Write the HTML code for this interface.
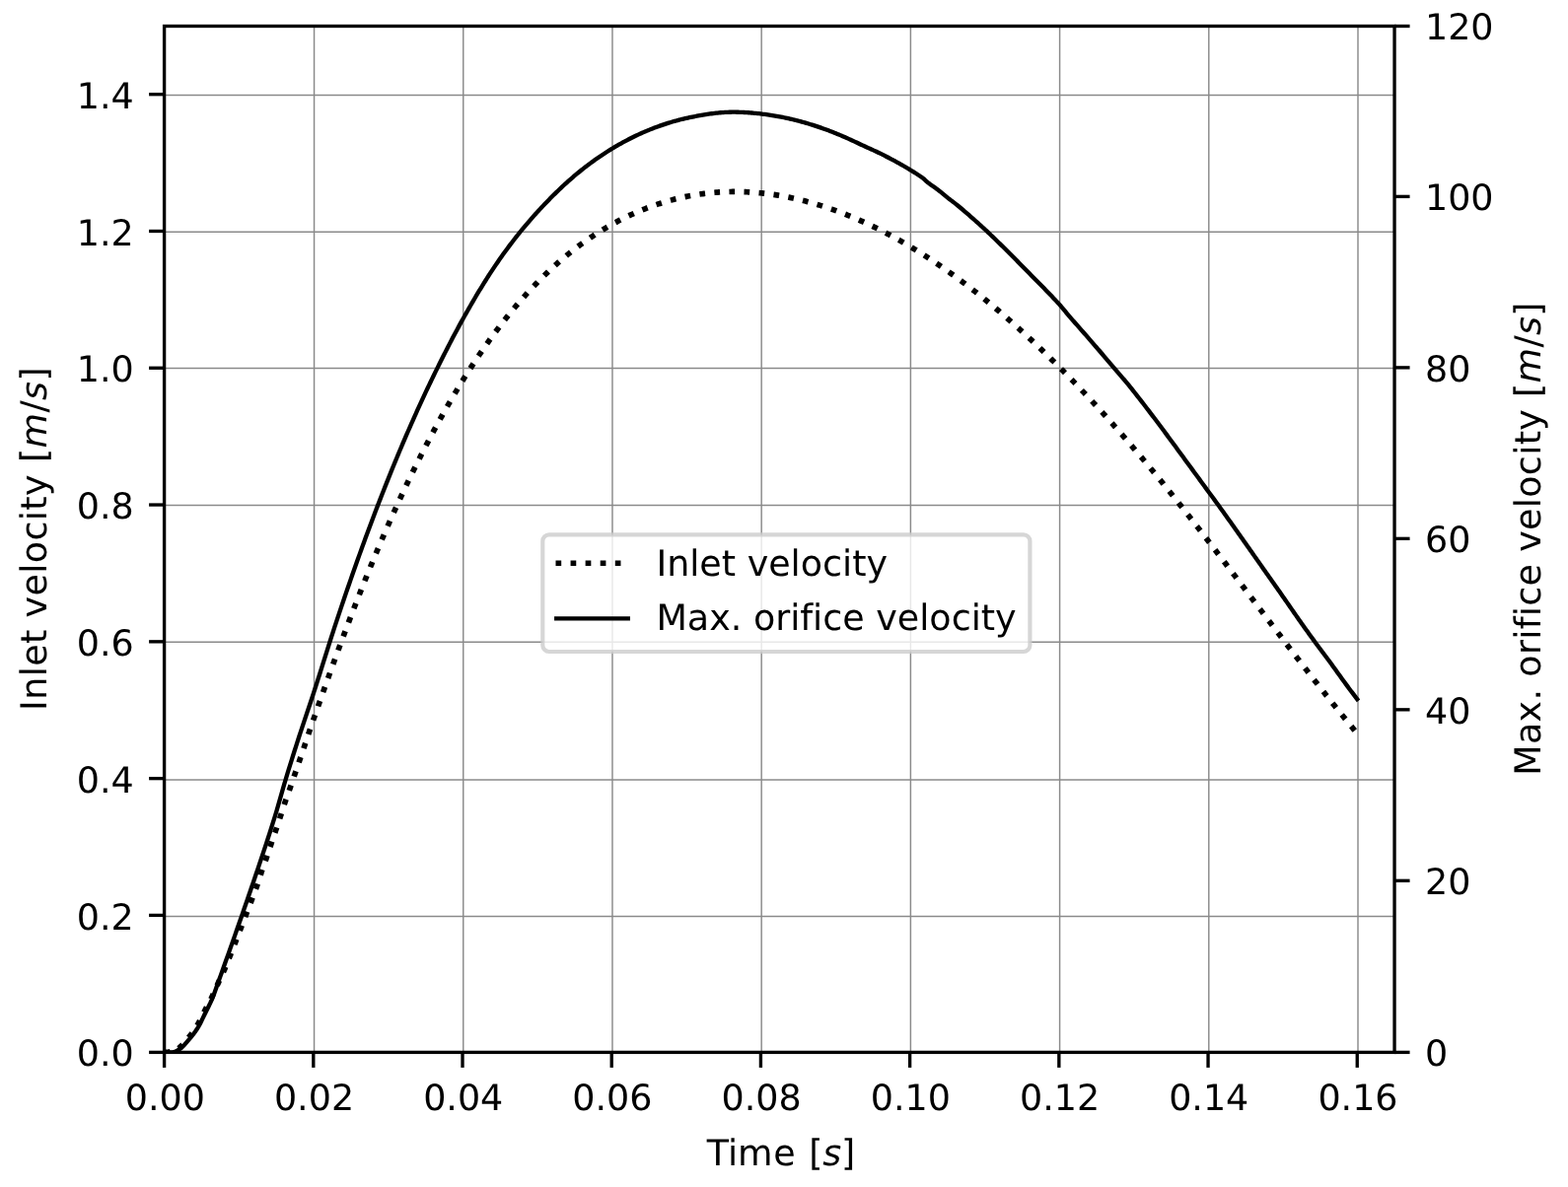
<!DOCTYPE html>
<html lang="en"><head><meta charset="utf-8"><title>Inlet velocity / Max. orifice velocity</title>
<style>html,body{margin:0;padding:0;background:#fff}body{width:1590px;height:1204px;overflow:hidden}svg{display:block}text{font-family:"DejaVu Sans","Liberation Sans",sans-serif;font-size:36.45px;fill:#000;font-variant-ligatures:none;font-feature-settings:"liga" 0,"clig" 0;text-rendering:geometricPrecision}.it{font-family:"DejaVu Sans","Liberation Sans",sans-serif;font-style:italic}</style></head><body>
<svg width="1590" height="1204" viewBox="0 0 1590 1204">
<rect x="0" y="0" width="1590" height="1204" fill="#fff"/>
<defs><clipPath id="ax"><rect x="166.6" y="26.5" width="1247.45" height="1040.9"/></clipPath></defs>
<g stroke="#8a8a8a" stroke-width="1.45" fill="none">
<line x1="318.56" y1="26.5" x2="318.56" y2="1067.4"/>
<line x1="469.76" y1="26.5" x2="469.76" y2="1067.4"/>
<line x1="620.97" y1="26.5" x2="620.97" y2="1067.4"/>
<line x1="772.17" y1="26.5" x2="772.17" y2="1067.4"/>
<line x1="923.38" y1="26.5" x2="923.38" y2="1067.4"/>
<line x1="1074.59" y1="26.5" x2="1074.59" y2="1067.4"/>
<line x1="1225.79" y1="26.5" x2="1225.79" y2="1067.4"/>
<line x1="1377" y1="26.5" x2="1377" y2="1067.4"/>
<line x1="166.6" y1="929.4" x2="1414.05" y2="929.4"/>
<line x1="166.6" y1="790.9" x2="1414.05" y2="790.9"/>
<line x1="166.6" y1="651.2" x2="1414.05" y2="651.2"/>
<line x1="166.6" y1="512.4" x2="1414.05" y2="512.4"/>
<line x1="166.6" y1="373.5" x2="1414.05" y2="373.5"/>
<line x1="166.6" y1="235.2" x2="1414.05" y2="235.2"/>
<line x1="166.6" y1="96.55" x2="1414.05" y2="96.55"/>
</g>
<polyline clip-path="url(#ax)" points="166.6,1067.4 168.1,1067.36 169.6,1067.23 171.1,1067.03 172.6,1066.77 174.1,1066.45 175.6,1066.08 177.1,1065.67 178.6,1065.12 180.1,1064.18 181.6,1063.06 183.1,1061.69 184.6,1060.11 186.1,1058.42 187.6,1056.6 189.1,1054.8 190.6,1053.06 192.1,1051.29 193.6,1049.43 195.1,1047.49 196.6,1045.43 198.1,1043.21 199.6,1040.84 201.1,1038.23 202.6,1035.29 204.1,1032.23 205.6,1029.25 207.1,1026.25 208.6,1023.32 210.1,1020.56 211.6,1017.88 213.1,1015.04 214.6,1011.93 216.1,1008.67 217.6,1005.36 219.1,1002.01 220.6,998.61 222.1,995.25 223.6,992.02 225.1,988.9 226.6,985.71 228.1,982.29 229.6,978.61 231.1,974.81 232.6,971.07 234.1,967.34 235.6,963.6 237.1,959.8 238.6,955.95 240.1,952.07 241.6,948.19 243.1,944.31 244.6,940.42 246.1,936.52 247.6,932.63 249.1,928.73 250.6,924.83 252.1,920.94 253.6,917.04 255.1,913.13 256.6,909.21 258.1,905.23 259.6,901.2 261.1,897.11 262.6,892.74 264.1,887.78 265.6,883 267.1,878.76 268.6,874.69 270.1,870.5 271.6,866.06 273.1,861.51 274.6,856.99 276.1,852.59 277.6,848.24 279.1,843.87 280.6,839.41 282.1,834.89 283.6,830.33 285.1,825.77 286.6,821.15 288.1,816.57 289.6,812.15 291.1,807.91 292.6,803.73 294.1,799.5 295.6,795.16 297.1,790.76 298.6,786.37 300.1,782 301.6,777.62 303.1,773.24 304.6,768.86 306.1,764.49 307.6,760.11 309.1,755.68 310.6,751.18 312.1,746.66 313.6,742.17 315.1,737.76 316.6,733.41 318.1,729.1 319.6,724.81 321.1,720.53 322.6,716.26 324.1,711.99 325.6,707.73 327.1,703.49 328.6,699.26 330.1,695.05 331.6,690.84 333.1,686.65 334.6,682.48 336.1,678.32 337.6,674.17 339.1,670.04 340.6,665.92 342.1,661.82 343.6,657.74 345.1,653.67 346.6,649.62 348.1,645.59 349.6,641.57 351.1,637.57 352.6,633.59 354.1,629.63 355.6,625.69 357.1,621.76 358.6,617.86 360.1,613.97 361.6,610.11 363.1,606.26 364.6,602.44 366.1,598.63 367.6,594.85 369.1,591.09 370.6,587.35 372.1,583.63 373.6,579.93 375.1,576.26 376.6,572.6 378.1,568.97 379.6,565.35 381.1,561.76 382.6,558.18 384.1,554.63 385.6,551.1 387.1,547.59 388.6,544.1 390.1,540.63 391.6,537.18 393.1,533.75 394.6,530.35 396.1,526.96 397.6,523.59 399.1,520.25 400.6,516.92 402.1,513.61 403.6,510.33 405.1,507.06 406.6,503.82 408.1,500.59 409.6,497.39 411.1,494.2 412.6,491.04 414.1,487.89 415.6,484.77 417.1,481.67 418.6,478.58 420.1,475.52 421.6,472.47 423.1,469.44 424.6,466.44 426.1,463.45 427.6,460.49 429.1,457.54 430.6,454.61 432.1,451.71 433.6,448.82 435.1,445.95 436.6,443.1 438.1,440.27 439.6,437.46 441.1,434.67 442.6,431.9 444.1,429.15 445.6,426.42 447.1,423.7 448.6,421.01 450.1,418.33 451.6,415.68 453.1,413.04 454.6,410.42 456.1,407.82 457.6,405.24 459.1,402.68 460.6,400.14 462.1,397.62 463.6,395.11 465.1,392.63 466.6,390.16 468.1,387.71 469.6,385.28 471.1,382.87 472.6,380.48 474.1,378.1 475.6,375.75 477.1,373.41 478.6,371.09 480.1,368.79 481.6,366.51 483.1,364.25 484.6,362 486.1,359.77 487.6,357.57 489.1,355.37 490.6,353.2 492.1,351.05 493.6,348.91 495.1,346.79 496.6,344.69 498.1,342.61 499.6,340.55 501.1,338.5 502.6,336.47 504.1,334.46 505.6,332.47 507.1,330.49 508.6,328.54 510.1,326.6 511.6,324.68 513.1,322.77 514.6,320.88 516.1,319.01 517.6,317.16 519.1,315.33 520.6,313.51 522.1,311.71 523.6,309.93 525.1,308.16 526.6,306.42 528.1,304.69 529.6,302.97 531.1,301.28 532.6,299.6 534.1,297.93 535.6,296.29 537.1,294.66 538.6,293.04 540.1,291.45 541.6,289.87 543.1,288.3 544.6,286.76 546.1,285.22 547.6,283.71 549.1,282.21 550.6,280.72 552.1,279.26 553.6,277.8 555.1,276.37 556.6,274.95 558.1,273.54 559.6,272.15 561.1,270.77 562.6,269.41 564.1,268.07 565.6,266.74 567.1,265.42 568.6,264.12 570.1,262.84 571.6,261.57 573.1,260.31 574.6,259.07 576.1,257.84 577.6,256.63 579.1,255.43 580.6,254.24 582.1,253.07 583.6,251.92 585.1,250.77 586.6,249.65 588.1,248.53 589.6,247.43 591.1,246.34 592.6,245.27 594.1,244.2 595.6,243.16 597.1,242.12 598.6,241.1 600.1,240.09 601.6,239.1 603.1,238.11 604.6,237.14 606.1,236.19 607.6,235.24 609.1,234.31 610.6,233.39 612.1,232.49 613.6,231.59 615.1,230.71 616.6,229.84 618.1,228.98 619.6,228.13 621.1,227.3 622.6,226.48 624.1,225.66 625.6,224.87 627.1,224.08 628.6,223.3 630.1,222.54 631.6,221.78 633.1,221.04 634.6,220.31 636.1,219.59 637.6,218.88 639.1,218.18 640.6,217.49 642.1,216.81 643.6,216.15 645.1,215.49 646.6,214.85 648.1,214.21 649.6,213.59 651.1,212.97 652.6,212.37 654.1,211.78 655.6,211.2 657.1,210.63 658.6,210.06 660.1,209.51 661.6,208.97 663.1,208.44 664.6,207.92 666.1,207.41 667.6,206.91 669.1,206.43 670.6,205.95 672.1,205.48 673.6,205.02 675.1,204.57 676.6,204.13 678.1,203.71 679.6,203.29 681.1,202.88 682.6,202.48 684.1,202.09 685.6,201.72 687.1,201.35 688.6,200.99 690.1,200.64 691.6,200.3 693.1,199.97 694.6,199.65 696.1,199.34 697.6,199.05 699.1,198.76 700.6,198.48 702.1,198.2 703.6,197.94 705.1,197.69 706.6,197.45 708.1,197.22 709.6,197 711.1,196.78 712.6,196.58 714.1,196.38 715.6,196.2 717.1,196.02 718.6,195.86 720.1,195.7 721.6,195.55 723.1,195.42 724.6,195.29 726.1,195.17 727.6,195.06 729.1,194.96 730.6,194.86 732.1,194.78 733.6,194.71 735.1,194.64 736.6,194.59 738.1,194.54 739.6,194.5 741.1,194.47 742.6,194.45 744.1,194.44 745.6,194.44 747.1,194.45 748.6,194.46 750.1,194.49 751.6,194.52 753.1,194.56 754.6,194.61 756.1,194.67 757.6,194.74 759.1,194.82 760.6,194.9 762.1,194.99 763.6,195.1 765.1,195.21 766.6,195.33 768.1,195.45 769.6,195.59 771.1,195.74 772.6,195.89 774.1,196.05 775.6,196.22 777.1,196.4 778.6,196.59 780.1,196.78 781.6,196.98 783.1,197.19 784.6,197.41 786.1,197.64 787.6,197.88 789.1,198.12 790.6,198.37 792.1,198.63 793.6,198.9 795.1,199.18 796.6,199.46 798.1,199.75 799.6,200.05 801.1,200.36 802.6,200.68 804.1,201 805.6,201.33 807.1,201.67 808.6,202.02 810.1,202.37 811.6,202.73 813.1,203.1 814.6,203.48 816.1,203.87 817.6,204.26 819.1,204.66 820.6,205.07 822.1,205.48 823.6,205.91 825.1,206.34 826.6,206.78 828.1,207.22 829.6,207.68 831.1,208.14 832.6,208.61 834.1,209.08 835.6,209.56 837.1,210.06 838.6,210.55 840.1,211.06 841.6,211.57 843.1,212.09 844.6,212.62 846.1,213.15 847.6,213.7 849.1,214.25 850.6,214.8 852.1,215.37 853.6,215.94 855.1,216.52 856.6,217.1 858.1,217.7 859.6,218.3 861.1,218.91 862.6,219.52 864.1,220.14 865.6,220.77 867.1,221.41 868.6,222.05 870.1,222.7 871.6,223.36 873.1,224.03 874.6,224.7 876.1,225.38 877.6,226.07 879.1,226.76 880.6,227.46 882.1,228.17 883.6,228.88 885.1,229.61 886.6,230.33 888.1,231.07 889.6,231.81 891.1,232.56 892.6,233.32 894.1,234.08 895.6,234.85 897.1,235.63 898.6,236.42 900.1,237.21 901.6,238 903.1,238.81 904.6,239.62 906.1,240.44 907.6,241.27 909.1,242.1 910.6,242.94 912.1,243.78 913.6,244.64 915.1,245.5 916.6,246.36 918.1,247.24 919.6,248.11 921.1,249 922.6,249.89 924.1,250.79 925.6,251.7 927.1,252.61 928.6,253.53 930.1,254.46 931.6,255.39 933.1,256.33 934.6,257.28 936.1,258.23 937.6,259.19 939.1,260.16 940.6,261.13 942.1,262.11 943.6,263.09 945.1,264.09 946.6,265.08 948.1,266.09 949.6,267.1 951.1,268.12 952.6,269.14 954.1,270.17 955.6,271.21 957.1,272.26 958.6,273.31 960.1,274.36 961.6,275.42 963.1,276.49 964.6,277.57 966.1,278.65 967.6,279.74 969.1,280.83 970.6,281.93 972.1,283.04 973.6,284.15 975.1,285.27 976.6,286.4 978.1,287.53 979.6,288.67 981.1,289.81 982.6,290.96 984.1,292.12 985.6,293.28 987.1,294.45 988.6,295.63 990.1,296.81 991.6,297.99 993.1,299.19 994.6,300.39 996.1,301.59 997.6,302.8 999.1,304.02 1000.6,305.25 1002.1,306.47 1003.6,307.71 1005.1,308.95 1006.6,310.2 1008.1,311.45 1009.6,312.71 1011.1,313.98 1012.6,315.25 1014.1,316.53 1015.6,317.81 1017.1,319.1 1018.6,320.39 1020.1,321.69 1021.6,323 1023.1,324.31 1024.6,325.63 1026.1,326.95 1027.6,328.28 1029.1,329.62 1030.6,330.96 1032.1,332.31 1033.6,333.66 1035.1,335.02 1036.6,336.38 1038.1,337.75 1039.6,339.13 1041.1,340.51 1042.6,341.9 1044.1,343.29 1045.6,344.69 1047.1,346.09 1048.6,347.5 1050.1,348.92 1051.6,350.34 1053.1,351.76 1054.6,353.2 1056.1,354.63 1057.6,356.08 1059.1,357.52 1060.6,358.98 1062.1,360.44 1063.6,361.9 1065.1,363.37 1066.6,364.85 1068.1,366.33 1069.6,367.82 1071.1,369.31 1072.6,370.81 1074.1,372.31 1075.6,373.82 1077.1,375.33 1078.6,376.85 1080.1,378.37 1081.6,379.9 1083.1,381.44 1084.6,382.98 1086.1,384.52 1087.6,386.07 1089.1,387.63 1090.6,389.19 1092.1,390.76 1093.6,392.33 1095.1,393.91 1096.6,395.49 1098.1,397.08 1099.6,398.67 1101.1,400.27 1102.6,401.87 1104.1,403.48 1105.6,405.09 1107.1,406.71 1108.6,408.33 1110.1,409.96 1111.6,411.59 1113.1,413.23 1114.6,414.87 1116.1,416.52 1117.6,418.18 1119.1,419.83 1120.6,421.5 1122.1,423.17 1123.6,424.84 1125.1,426.52 1126.6,428.2 1128.1,429.89 1129.6,431.58 1131.1,433.28 1132.6,434.98 1134.1,436.69 1135.6,438.4 1137.1,440.12 1138.6,441.84 1140.1,443.57 1141.6,445.3 1143.1,447.04 1144.6,448.78 1146.1,450.53 1147.6,452.28 1149.1,454.03 1150.6,455.79 1152.1,457.56 1153.6,459.33 1155.1,461.1 1156.6,462.88 1158.1,464.67 1159.6,466.46 1161.1,468.25 1162.6,470.05 1164.1,471.85 1165.6,473.66 1167.1,475.47 1168.6,477.28 1170.1,479.1 1171.6,480.93 1173.1,482.76 1174.6,484.59 1176.1,486.43 1177.6,488.28 1179.1,490.12 1180.6,491.98 1182.1,493.83 1183.6,495.69 1185.1,497.56 1186.6,499.43 1188.1,501.3 1189.6,503.18 1191.1,505.06 1192.6,506.94 1194.1,508.83 1195.6,510.72 1197.1,512.62 1198.6,514.52 1200.1,516.42 1201.6,518.33 1203.1,520.24 1204.6,522.15 1206.1,524.07 1207.6,525.99 1209.1,527.91 1210.6,529.83 1212.1,531.76 1213.6,533.69 1215.1,535.63 1216.6,537.56 1218.1,539.5 1219.6,541.44 1221.1,543.39 1222.6,545.33 1224.1,547.28 1225.6,549.23 1227.1,551.19 1228.6,553.14 1230.1,555.1 1231.6,557.06 1233.1,559.02 1234.6,560.98 1236.1,562.95 1237.6,564.91 1239.1,566.88 1240.6,568.85 1242.1,570.82 1243.6,572.79 1245.1,574.77 1246.6,576.74 1248.1,578.72 1249.6,580.69 1251.1,582.67 1252.6,584.65 1254.1,586.63 1255.6,588.61 1257.1,590.59 1258.6,592.57 1260.1,594.56 1261.6,596.54 1263.1,598.52 1264.6,600.51 1266.1,602.49 1267.6,604.48 1269.1,606.46 1270.6,608.44 1272.1,610.43 1273.6,612.41 1275.1,614.4 1276.6,616.38 1278.1,618.37 1279.6,620.35 1281.1,622.33 1282.6,624.31 1284.1,626.3 1285.6,628.28 1287.1,630.26 1288.6,632.24 1290.1,634.22 1291.6,636.19 1293.1,638.17 1294.6,640.15 1296.1,642.12 1297.6,644.09 1299.1,646.07 1300.6,648.04 1302.1,650.01 1303.6,651.97 1305.1,653.94 1306.6,655.9 1308.1,657.87 1309.6,659.83 1311.1,661.79 1312.6,663.74 1314.1,665.7 1315.6,667.65 1317.1,669.6 1318.6,671.55 1320.1,673.5 1321.6,675.44 1323.1,677.38 1324.6,679.32 1326.1,681.26 1327.6,683.19 1329.1,685.12 1330.6,687.05 1332.1,688.97 1333.6,690.9 1335.1,692.81 1336.6,694.73 1338.1,696.64 1339.6,698.55 1341.1,700.46 1342.6,702.36 1344.1,704.26 1345.6,706.16 1347.1,708.05 1348.6,709.94 1350.1,711.82 1351.6,713.7 1353.1,715.58 1354.6,717.45 1356.1,719.32 1357.6,721.18 1359.1,723.04 1360.6,724.9 1362.1,726.75 1363.6,728.6 1365.1,730.44 1366.6,732.28 1368.1,734.12 1369.6,735.94 1371.1,737.77 1372.6,739.59 1374.1,741.4 1375.6,743.21 1376.2,743.93" fill="none" stroke="#000" stroke-width="5.69" stroke-dasharray="5.69 9.38" stroke-dashoffset="-0.17" stroke-linejoin="round" stroke-linecap="butt"/>
<polyline clip-path="url(#ax)" points="166.6,1067.4 168.1,1067.4 169.6,1067.4 171.1,1067.4 172.6,1067.39 174.1,1067.27 175.6,1067.06 177.1,1066.75 178.6,1066.19 180.1,1065.43 181.6,1064.53 183.1,1063.54 184.6,1062.35 186.1,1060.83 187.6,1059.12 189.1,1057.39 190.6,1055.67 192.1,1053.93 193.6,1052.14 195.1,1050.27 196.6,1048.32 198.1,1046.25 199.6,1044.05 201.1,1041.68 202.6,1039 204.1,1036.03 205.6,1032.92 207.1,1029.77 208.6,1026.69 210.1,1023.71 211.6,1020.73 213.1,1017.65 214.6,1014.37 216.1,1010.76 217.6,1006.7 219.1,1002.43 220.6,998.24 222.1,994.07 223.6,989.89 225.1,985.71 226.6,981.51 228.1,977.3 229.6,973.09 231.1,968.86 232.6,964.63 234.1,960.38 235.6,956.13 237.1,951.87 238.6,947.6 240.1,943.32 241.6,939.03 243.1,934.74 244.6,930.44 246.1,926.13 247.6,921.81 249.1,917.49 250.6,913.16 252.1,908.81 253.6,904.45 255.1,900.07 256.6,895.67 258.1,891.24 259.6,886.79 261.1,882.31 262.6,877.84 264.1,873.37 265.6,868.88 267.1,864.38 268.6,859.86 270.1,855.31 271.6,850.72 273.1,846.09 274.6,841.42 276.1,836.68 277.6,831.89 279.1,827.02 280.6,822.01 282.1,816.86 283.6,811.62 285.1,806.35 286.6,801.09 288.1,795.9 289.6,790.83 291.1,785.87 292.6,780.97 294.1,776.11 295.6,771.29 297.1,766.51 298.6,761.77 300.1,757.06 301.6,752.38 303.1,747.74 304.6,743.16 306.1,738.62 307.6,734.11 309.1,729.62 310.6,725.14 312.1,720.67 313.6,716.2 315.1,711.71 316.6,707.19 318.1,702.64 319.6,698.04 321.1,693.41 322.6,688.72 324.1,683.98 325.6,679.21 327.1,674.42 328.6,669.63 330.1,664.85 331.6,660.08 333.1,655.34 334.6,650.62 336.1,645.94 337.6,641.3 339.1,636.69 340.6,632.12 342.1,627.58 343.6,623.08 345.1,618.6 346.6,614.15 348.1,609.72 349.6,605.31 351.1,600.92 352.6,596.55 354.1,592.2 355.6,587.87 357.1,583.57 358.6,579.29 360.1,575.03 361.6,570.79 363.1,566.58 364.6,562.39 366.1,558.22 367.6,554.08 369.1,549.96 370.6,545.86 372.1,541.79 373.6,537.73 375.1,533.7 376.6,529.7 378.1,525.71 379.6,521.75 381.1,517.81 382.6,513.89 384.1,509.99 385.6,506.11 387.1,502.26 388.6,498.43 390.1,494.63 391.6,490.84 393.1,487.08 394.6,483.34 396.1,479.62 397.6,475.93 399.1,472.26 400.6,468.61 402.1,464.98 403.6,461.37 405.1,457.79 406.6,454.23 408.1,450.69 409.6,447.17 411.1,443.67 412.6,440.2 414.1,436.75 415.6,433.31 417.1,429.9 418.6,426.51 420.1,423.15 421.6,419.8 423.1,416.47 424.6,413.17 426.1,409.89 427.6,406.62 429.1,403.38 430.6,400.16 432.1,396.96 433.6,393.78 435.1,390.62 436.6,387.48 438.1,384.36 439.6,381.26 441.1,378.18 442.6,375.13 444.1,372.09 445.6,369.06 447.1,366.05 448.6,363.06 450.1,360.09 451.6,357.13 453.1,354.19 454.6,351.27 456.1,348.37 457.6,345.49 459.1,342.62 460.6,339.78 462.1,336.96 463.6,334.16 465.1,331.39 466.6,328.63 468.1,325.9 469.6,323.2 471.1,320.51 472.6,317.85 474.1,315.2 475.6,312.57 477.1,309.96 478.6,307.37 480.1,304.8 481.6,302.25 483.1,299.72 484.6,297.21 486.1,294.73 487.6,292.26 489.1,289.82 490.6,287.39 492.1,285 493.6,282.62 495.1,280.27 496.6,277.94 498.1,275.63 499.6,273.36 501.1,271.1 502.6,268.87 504.1,266.67 505.6,264.49 507.1,262.33 508.6,260.2 510.1,258.1 511.6,256.01 513.1,253.95 514.6,251.91 516.1,249.89 517.6,247.9 519.1,245.93 520.6,243.97 522.1,242.04 523.6,240.13 525.1,238.24 526.6,236.37 528.1,234.52 529.6,232.68 531.1,230.87 532.6,229.08 534.1,227.3 535.6,225.54 537.1,223.8 538.6,222.08 540.1,220.37 541.6,218.68 543.1,217.01 544.6,215.35 546.1,213.71 547.6,212.09 549.1,210.48 550.6,208.88 552.1,207.3 553.6,205.73 555.1,204.17 556.6,202.63 558.1,201.1 559.6,199.59 561.1,198.09 562.6,196.6 564.1,195.13 565.6,193.68 567.1,192.24 568.6,190.82 570.1,189.41 571.6,188.02 573.1,186.65 574.6,185.29 576.1,183.94 577.6,182.62 579.1,181.3 580.6,180.01 582.1,178.72 583.6,177.46 585.1,176.21 586.6,174.97 588.1,173.75 589.6,172.54 591.1,171.35 592.6,170.17 594.1,169.01 595.6,167.86 597.1,166.73 598.6,165.61 600.1,164.51 601.6,163.41 603.1,162.34 604.6,161.28 606.1,160.23 607.6,159.19 609.1,158.17 610.6,157.16 612.1,156.17 613.6,155.19 615.1,154.22 616.6,153.27 618.1,152.33 619.6,151.4 621.1,150.49 622.6,149.59 624.1,148.7 625.6,147.82 627.1,146.96 628.6,146.11 630.1,145.27 631.6,144.45 633.1,143.64 634.6,142.84 636.1,142.05 637.6,141.27 639.1,140.51 640.6,139.75 642.1,139.01 643.6,138.28 645.1,137.56 646.6,136.86 648.1,136.16 649.6,135.48 651.1,134.81 652.6,134.15 654.1,133.5 655.6,132.86 657.1,132.24 658.6,131.62 660.1,131.02 661.6,130.43 663.1,129.85 664.6,129.28 666.1,128.72 667.6,128.17 669.1,127.64 670.6,127.11 672.1,126.6 673.6,126.1 675.1,125.61 676.6,125.13 678.1,124.66 679.6,124.2 681.1,123.75 682.6,123.31 684.1,122.89 685.6,122.47 687.1,122.07 688.6,121.67 690.1,121.29 691.6,120.91 693.1,120.55 694.6,120.2 696.1,119.86 697.6,119.53 699.1,119.21 700.6,118.9 702.1,118.59 703.6,118.29 705.1,118 706.6,117.71 708.1,117.43 709.6,117.15 711.1,116.88 712.6,116.62 714.1,116.37 715.6,116.13 717.1,115.89 718.6,115.67 720.1,115.45 721.6,115.25 723.1,115.05 724.6,114.87 726.1,114.7 727.6,114.54 729.1,114.39 730.6,114.26 732.1,114.14 733.6,114.04 735.1,113.94 736.6,113.87 738.1,113.8 739.6,113.76 741.1,113.73 742.6,113.71 744.1,113.7 745.6,113.71 747.1,113.73 748.6,113.76 750.1,113.8 751.6,113.85 753.1,113.92 754.6,113.99 756.1,114.08 757.6,114.17 759.1,114.27 760.6,114.38 762.1,114.51 763.6,114.64 765.1,114.77 766.6,114.92 768.1,115.07 769.6,115.23 771.1,115.4 772.6,115.58 774.1,115.76 775.6,115.95 777.1,116.15 778.6,116.36 780.1,116.58 781.6,116.81 783.1,117.04 784.6,117.29 786.1,117.54 787.6,117.81 789.1,118.08 790.6,118.36 792.1,118.64 793.6,118.94 795.1,119.25 796.6,119.56 798.1,119.88 799.6,120.21 801.1,120.55 802.6,120.9 804.1,121.26 805.6,121.62 807.1,122 808.6,122.38 810.1,122.77 811.6,123.17 813.1,123.58 814.6,123.99 816.1,124.42 817.6,124.85 819.1,125.29 820.6,125.74 822.1,126.2 823.6,126.66 825.1,127.14 826.6,127.62 828.1,128.11 829.6,128.61 831.1,129.12 832.6,129.64 834.1,130.16 835.6,130.7 837.1,131.24 838.6,131.79 840.1,132.35 841.6,132.92 843.1,133.49 844.6,134.08 846.1,134.67 847.6,135.28 849.1,135.89 850.6,136.51 852.1,137.14 853.6,137.78 855.1,138.43 856.6,139.08 858.1,139.74 859.6,140.41 861.1,141.09 862.6,141.77 864.1,142.46 865.6,143.15 867.1,143.85 868.6,144.56 870.1,145.27 871.6,145.98 873.1,146.68 874.6,147.37 876.1,148.06 877.6,148.74 879.1,149.42 880.6,150.1 882.1,150.78 883.6,151.46 885.1,152.14 886.6,152.83 888.1,153.53 889.6,154.24 891.1,154.95 892.6,155.68 894.1,156.42 895.6,157.18 897.1,157.95 898.6,158.72 900.1,159.49 901.6,160.27 903.1,161.06 904.6,161.85 906.1,162.65 907.6,163.46 909.1,164.28 910.6,165.1 912.1,165.94 913.6,166.78 915.1,167.64 916.6,168.5 918.1,169.37 919.6,170.26 921.1,171.15 922.6,172.06 924.1,172.98 925.6,173.91 927.1,174.84 928.6,175.77 930.1,176.73 931.6,177.7 933.1,178.69 934.6,179.7 936.1,180.84 937.6,182.21 939.1,183.66 940.6,184.97 942.1,186.06 943.6,187.13 945.1,188.2 946.6,189.28 948.1,190.36 949.6,191.46 951.1,192.57 952.6,193.72 954.1,194.92 955.6,196.17 957.1,197.42 958.6,198.67 960.1,199.9 961.6,201.08 963.1,202.22 964.6,203.35 966.1,204.49 967.6,205.64 969.1,206.83 970.6,208.04 972.1,209.26 973.6,210.5 975.1,211.76 976.6,213.02 978.1,214.3 979.6,215.59 981.1,216.89 982.6,218.2 984.1,219.51 985.6,220.83 987.1,222.16 988.6,223.49 990.1,224.83 991.6,226.17 993.1,227.53 994.6,228.89 996.1,230.26 997.6,231.65 999.1,233.04 1000.6,234.44 1002.1,235.85 1003.6,237.26 1005.1,238.69 1006.6,240.12 1008.1,241.56 1009.6,243.01 1011.1,244.46 1012.6,245.92 1014.1,247.39 1015.6,248.86 1017.1,250.34 1018.6,251.83 1020.1,253.32 1021.6,254.81 1023.1,256.31 1024.6,257.81 1026.1,259.32 1027.6,260.83 1029.1,262.34 1030.6,263.86 1032.1,265.38 1033.6,266.9 1035.1,268.43 1036.6,269.95 1038.1,271.48 1039.6,273.01 1041.1,274.54 1042.6,276.07 1044.1,277.61 1045.6,279.14 1047.1,280.67 1048.6,282.2 1050.1,283.72 1051.6,285.24 1053.1,286.76 1054.6,288.28 1056.1,289.8 1057.6,291.32 1059.1,292.85 1060.6,294.39 1062.1,295.93 1063.6,297.47 1065.1,299.03 1066.6,300.59 1068.1,302.17 1069.6,303.76 1071.1,305.36 1072.6,306.98 1074.1,308.61 1075.6,310.28 1077.1,312.04 1078.6,313.85 1080.1,315.69 1081.6,317.54 1083.1,319.38 1084.6,321.17 1086.1,322.9 1087.6,324.59 1089.1,326.28 1090.6,327.98 1092.1,329.68 1093.6,331.38 1095.1,333.09 1096.6,334.8 1098.1,336.51 1099.6,338.22 1101.1,339.93 1102.6,341.65 1104.1,343.38 1105.6,345.1 1107.1,346.83 1108.6,348.56 1110.1,350.3 1111.6,352.03 1113.1,353.78 1114.6,355.52 1116.1,357.27 1117.6,359.02 1119.1,360.78 1120.6,362.54 1122.1,364.3 1123.6,366.07 1125.1,367.85 1126.6,369.62 1128.1,371.4 1129.6,373.19 1131.1,374.96 1132.6,376.71 1134.1,378.43 1135.6,380.14 1137.1,381.84 1138.6,383.55 1140.1,385.28 1141.6,387.04 1143.1,388.83 1144.6,390.67 1146.1,392.55 1147.6,394.44 1149.1,396.34 1150.6,398.24 1152.1,400.15 1153.6,402.07 1155.1,403.99 1156.6,405.92 1158.1,407.86 1159.6,409.8 1161.1,411.75 1162.6,413.71 1164.1,415.67 1165.6,417.64 1167.1,419.61 1168.6,421.59 1170.1,423.57 1171.6,425.56 1173.1,427.55 1174.6,429.55 1176.1,431.55 1177.6,433.56 1179.1,435.57 1180.6,437.59 1182.1,439.61 1183.6,441.63 1185.1,443.66 1186.6,445.69 1188.1,447.73 1189.6,449.77 1191.1,451.81 1192.6,453.85 1194.1,455.9 1195.6,457.95 1197.1,460 1198.6,462.05 1200.1,464.1 1201.6,466.15 1203.1,468.2 1204.6,470.25 1206.1,472.3 1207.6,474.35 1209.1,476.39 1210.6,478.44 1212.1,480.49 1213.6,482.54 1215.1,484.59 1216.6,486.64 1218.1,488.69 1219.6,490.74 1221.1,492.8 1222.6,494.86 1224.1,496.91 1225.6,498.97 1227.1,501.02 1228.6,503.06 1230.1,505.1 1231.6,507.14 1233.1,509.19 1234.6,511.26 1236.1,513.34 1237.6,515.43 1239.1,517.52 1240.6,519.61 1242.1,521.71 1243.6,523.81 1245.1,525.91 1246.6,528.01 1248.1,530.12 1249.6,532.23 1251.1,534.35 1252.6,536.46 1254.1,538.58 1255.6,540.7 1257.1,542.82 1258.6,544.94 1260.1,547.07 1261.6,549.19 1263.1,551.32 1264.6,553.45 1266.1,555.58 1267.6,557.71 1269.1,559.84 1270.6,561.97 1272.1,564.11 1273.6,566.24 1275.1,568.37 1276.6,570.5 1278.1,572.64 1279.6,574.77 1281.1,576.9 1282.6,579.04 1284.1,581.17 1285.6,583.3 1287.1,585.42 1288.6,587.55 1290.1,589.67 1291.6,591.8 1293.1,593.93 1294.6,596.06 1296.1,598.2 1297.6,600.34 1299.1,602.49 1300.6,604.65 1302.1,606.81 1303.6,608.98 1305.1,611.14 1306.6,613.31 1308.1,615.48 1309.6,617.65 1311.1,619.81 1312.6,621.98 1314.1,624.14 1315.6,626.29 1317.1,628.43 1318.6,630.57 1320.1,632.7 1321.6,634.82 1323.1,636.93 1324.6,639.02 1326.1,641.11 1327.6,643.19 1329.1,645.26 1330.6,647.32 1332.1,649.37 1333.6,651.42 1335.1,653.46 1336.6,655.49 1338.1,657.52 1339.6,659.55 1341.1,661.56 1342.6,663.53 1344.1,665.48 1345.6,667.44 1347.1,669.43 1348.6,671.48 1350.1,673.55 1351.6,675.64 1353.1,677.72 1354.6,679.81 1356.1,681.91 1357.6,684 1359.1,686.09 1360.6,688.17 1362.1,690.25 1363.6,692.31 1365.1,694.37 1366.6,696.4 1368.1,698.42 1369.6,700.42 1371.1,702.41 1372.6,704.4 1374.1,706.37 1375.6,708.33 1376.2,709.11" fill="none" stroke="#000" stroke-width="4.3" stroke-linejoin="round" stroke-linecap="square"/>
<g stroke="#000" stroke-width="3.35" fill="none">
<line x1="166.6" y1="1067.4" x2="166.6" y2="1082.9"/>
<line x1="317.81" y1="1067.4" x2="317.81" y2="1082.9"/>
<line x1="469.01" y1="1067.4" x2="469.01" y2="1082.9"/>
<line x1="620.22" y1="1067.4" x2="620.22" y2="1082.9"/>
<line x1="771.42" y1="1067.4" x2="771.42" y2="1082.9"/>
<line x1="922.63" y1="1067.4" x2="922.63" y2="1082.9"/>
<line x1="1073.84" y1="1067.4" x2="1073.84" y2="1082.9"/>
<line x1="1225.04" y1="1067.4" x2="1225.04" y2="1082.9"/>
<line x1="1376.25" y1="1067.4" x2="1376.25" y2="1082.9"/>
<line x1="151.1" y1="1067.4" x2="166.6" y2="1067.4"/>
<line x1="151.1" y1="928.41" x2="166.6" y2="928.41"/>
<line x1="151.1" y1="789.63" x2="166.6" y2="789.63"/>
<line x1="151.1" y1="650.84" x2="166.6" y2="650.84"/>
<line x1="151.1" y1="512.05" x2="166.6" y2="512.05"/>
<line x1="151.1" y1="373.27" x2="166.6" y2="373.27"/>
<line x1="151.1" y1="234.48" x2="166.6" y2="234.48"/>
<line x1="151.1" y1="95.69" x2="166.6" y2="95.69"/>
<line x1="1414.05" y1="1067.4" x2="1429.55" y2="1067.4"/>
<line x1="1414.05" y1="893.32" x2="1429.55" y2="893.32"/>
<line x1="1414.05" y1="719.83" x2="1429.55" y2="719.83"/>
<line x1="1414.05" y1="546.35" x2="1429.55" y2="546.35"/>
<line x1="1414.05" y1="372.87" x2="1429.55" y2="372.87"/>
<line x1="1414.05" y1="199.38" x2="1429.55" y2="199.38"/>
<line x1="1414.05" y1="26.5" x2="1429.55" y2="26.5"/>
</g>
<rect x="166.6" y="26.5" width="1247.45" height="1040.9" fill="none" stroke="#000" stroke-width="3.35" stroke-linejoin="miter"/>
<text x="167.3" y="1125.7" text-anchor="middle">0.00</text>
<text x="318.51" y="1125.7" text-anchor="middle">0.02</text>
<text x="469.71" y="1125.7" text-anchor="middle">0.04</text>
<text x="620.92" y="1125.7" text-anchor="middle">0.06</text>
<text x="772.12" y="1125.7" text-anchor="middle">0.08</text>
<text x="923.33" y="1125.7" text-anchor="middle">0.10</text>
<text x="1074.54" y="1125.7" text-anchor="middle">0.12</text>
<text x="1225.74" y="1125.7" text-anchor="middle">0.14</text>
<text x="1376.95" y="1125.7" text-anchor="middle">0.16</text>
<text x="135.8" y="1081.3" text-anchor="end">0.0</text>
<text x="135.8" y="942.51" text-anchor="end">0.2</text>
<text x="135.8" y="803.73" text-anchor="end">0.4</text>
<text x="135.8" y="664.94" text-anchor="end">0.6</text>
<text x="135.8" y="526.15" text-anchor="end">0.8</text>
<text x="135.8" y="387.37" text-anchor="end">1.0</text>
<text x="135.8" y="248.58" text-anchor="end">1.2</text>
<text x="135.8" y="109.79" text-anchor="end">1.4</text>
<text x="1445" y="1080.9" text-anchor="start">0</text>
<text x="1445" y="907.42" text-anchor="start">20</text>
<text x="1445" y="733.93" text-anchor="start">40</text>
<text x="1445" y="560.45" text-anchor="start">60</text>
<text x="1445" y="386.97" text-anchor="start">80</text>
<text x="1445" y="213.48" text-anchor="start">100</text>
<text x="1445" y="40" text-anchor="start">120</text>
<text x="716.8" y="1181.8">Tim<tspan dx="0.7">e</tspan> <tspan x="820.2">[</tspan><tspan class="it" x="834.3">s</tspan><tspan x="853.1">]</tspan></text>
<text transform="translate(47.2,720.9) rotate(-90)" textLength="348.5" lengthAdjust="spacing">Inlet velocity [<tspan class="it">m</tspan>/<tspan class="it">s</tspan>]</text>
<text transform="translate(1562,786.8) rotate(-90)" textLength="480.3" lengthAdjust="spacing">Max. orifice velocity [<tspan class="it">m</tspan>/<tspan class="it">s</tspan>]</text>
<rect x="550.3" y="542.4" width="494.1" height="118.6" rx="6.5" ry="6.5" fill="#fff" fill-opacity="0.8" stroke="#ccc" stroke-opacity="0.8" stroke-width="4.17"/>
<line x1="563.5" y1="571.25" x2="636.8" y2="571.25" stroke="#000" stroke-width="5.69" stroke-dasharray="5.69 9.38"/>
<line x1="564.2" y1="627.3" x2="636.8" y2="627.3" stroke="#000" stroke-width="4.3" stroke-linecap="square"/>
<text x="665.4" y="584.0">Inlet velocity</text>
<text x="665.4" y="639.0">Max. orifice velocity</text>
</svg></body></html>
